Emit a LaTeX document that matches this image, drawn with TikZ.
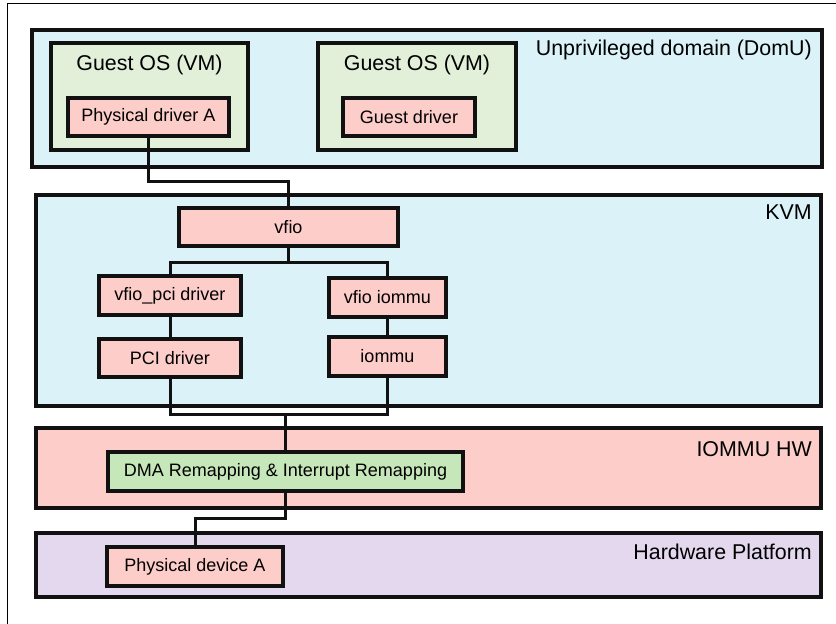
\documentclass[tikz,border=0pt]{standalone}
\usepackage{fontspec}
\setmainfont{Liberation Sans}
\definecolor{skyfill}{HTML}{DAF2F8}
\definecolor{guestfill}{HTML}{E2F0D9}
\definecolor{modpink}{HTML}{FCCDC9}
\definecolor{remapgreen}{HTML}{C6E7B9}
\definecolor{platfill}{HTML}{E4D8EE}
\definecolor{lineblack}{HTML}{111111}
\begin{document}
\begin{tikzpicture}[x=1pt,y=-1pt,
    layer/.style={draw=lineblack,line width=3.2pt,inner sep=0pt},
    mod/.style={draw=lineblack,line width=3.2pt,fill=modpink,inner sep=0pt,font=\fontsize{18}{21}\selectfont},
    title/.style={inner sep=0pt,font=\fontsize{21.4}{25}\selectfont},
    wire/.style={draw=lineblack,line width=3pt}]
    \useasboundingbox (0,0) rectangle (836,624);
    \draw[line width=1pt] (7.5,624) -- (7.5,3.5) -- (836,3.5);
    % layers
    \node[layer,fill=skyfill,minimum width=790pt,minimum height=137pt] (dom) at (427,98.5) {};
    \node[layer,fill=skyfill,minimum width=785pt,minimum height=211pt] (kvm) at (428.5,300.5) {};
    \node[layer,fill=modpink,minimum width=785pt,minimum height=80pt] (hw) at (428.5,468) {};
    \node[layer,fill=platfill,minimum width=785pt,minimum height=64pt] (plat) at (428.5,565) {};
    \node[title,anchor=base east] (domt) at (812,55) {Unprivileged domain (DomU)};
    \node[title,anchor=base east] (kvmt) at (812,219) {KVM};
    \node[title,anchor=base east] (hwt) at (812,456) {IOMMU HW};
    \node[title,anchor=base east] (platt) at (812,559) {Hardware Platform};
    % guests
    \node[layer,fill=guestfill,minimum width=197pt,minimum height=107pt] (g1) at (149.5,96.5) {};
    \node[layer,fill=guestfill,minimum width=198pt,minimum height=107pt] (g2) at (417,96.5) {};
    \node[title,anchor=base] (g1t) at (149.5,70) {Guest OS (VM)};
    \node[title,anchor=base] (g2t) at (417,70) {Guest OS (VM)};
    % modules
    \node[mod,minimum width=161pt,minimum height=38pt] (pda) at (148.5,117) {Physical driver A};
    \node[mod,minimum width=132pt,minimum height=38pt] (gd) at (409,117) {Guest driver};
    \node[mod,minimum width=219pt,minimum height=38pt] (vfio) at (288.5,227) {vfio};
    \node[mod,minimum width=142pt,minimum height=39pt] (vpci) at (170,295.5) {vfio\_pci driver};
    \node[mod,minimum width=117pt,minimum height=39pt] (viommu) at (387.5,297.5) {vfio iommu};
    \node[mod,minimum width=142pt,minimum height=38pt] (pci) at (170,358) {PCI driver};
    \node[mod,minimum width=117pt,minimum height=39pt] (iommu) at (387.5,356.5) {iommu};
    \node[mod,fill=remapgreen,minimum width=355pt,minimum height=39pt] (dma) at (285.5,471.5) {DMA Remapping \& Interrupt Remapping};
    \node[mod,minimum width=176pt,minimum height=39pt] (pdev) at (195,566.5) {Physical device A};
    % wires
    \coordinate (kj) at (285.5,414);
    \draw[wire] (pda.south) |- (149,181) -| (vfio.north);
    \draw[wire] (vfio.south) |- (170,262) -- (vpci.north);
    \draw[wire] (vfio.south) |- (387.5,262) -- (viommu.north);
    \draw[wire] (vpci) -- (pci);
    \draw[wire] (viommu) -- (iommu);
    \draw[wire] (pci.south) |- (kj) -| (iommu.south);
    \draw[wire] (kj) -- (dma.north);
    \draw[wire] (dma.south) |- (195,518) -- (pdev.north);
\end{tikzpicture}
\end{document}
